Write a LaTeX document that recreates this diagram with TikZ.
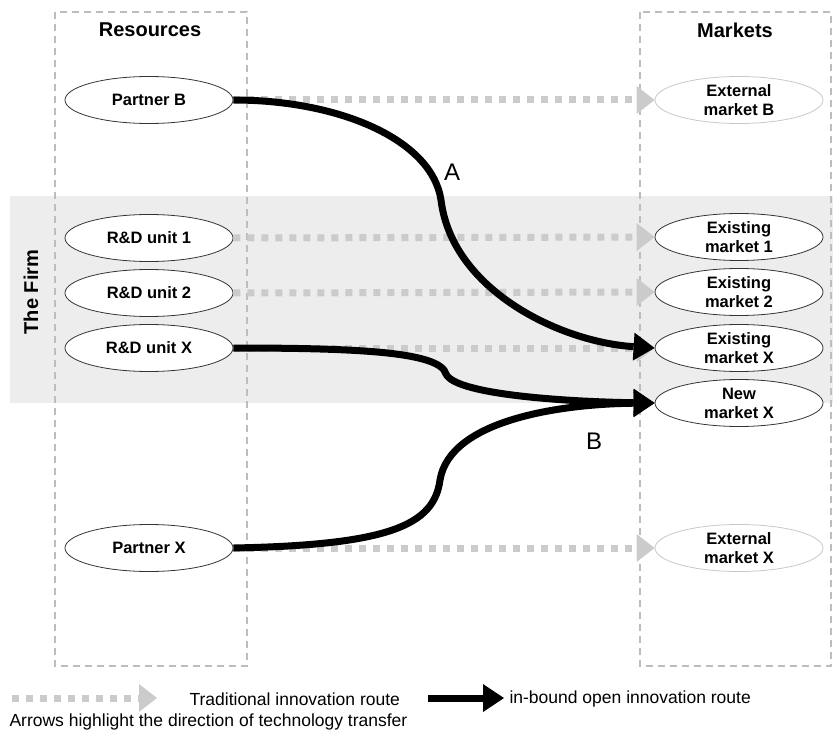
\documentclass[tikz,border=0pt]{standalone}
\usepackage{fontspec}
\setmainfont{Liberation Sans}
\usetikzlibrary{shapes.geometric,arrows.meta}
\definecolor{band}{HTML}{EDEDED}
\definecolor{boxline}{HTML}{BDBDBD}
\definecolor{trad}{HTML}{CBCBCB}
\definecolor{extline}{HTML}{C8C8C8}
\tikzset{
  framebox/.style={draw=boxline,line width=1.5pt,dash pattern=on 7pt off 5pt},
  ell/.style={ellipse,draw=black!80,line width=0.8pt,fill=white,minimum width=168pt,minimum height=47pt,inner sep=0pt,align=center,font=\bfseries\fontsize{16.5}{19}\selectfont},
  ext/.style={ell,draw=extline},
  tradarrow/.style={draw=trad,line width=7pt,dash pattern=on 7pt off 7pt,-{Triangle[length=18pt,width=28pt,fill=trad,line width=0pt]}},
  openarrow/.style={draw=black,line width=7pt,-{Triangle[length=21pt,width=28pt,line width=0pt]}},
  head/.style={font=\bfseries\fontsize{20}{24}\selectfont},
  lbl/.style={font=\fontsize{24}{28}\selectfont},
  legend/.style={anchor=west,font=\fontsize{17.5}{21}\selectfont}
}
\begin{document}
\begin{tikzpicture}[x=1pt,y=-1pt]
\useasboundingbox (0,0) rectangle (833,733);
\fill[band] (10,196) rectangle (833,403);
\draw[framebox] (55,12) rectangle (247,666);
\draw[framebox] (640,12) rectangle (831,666);
\node[head] (res) at (150,30) {Resources};
\node[head] (mkt) at (735,30) {Markets};
\node[head,rotate=90] (firm) at (31,292) {The Firm};
% left nodes
\node[ell] (pb) at (149,100) {Partner B};
\node[ell] (r1) at (149,238) {R\&D unit 1};
\node[ell] (r2) at (149,293) {R\&D unit 2};
\node[ell] (rx) at (149,348) {R\&D unit X};
\node[ell] (px) at (149,548) {Partner X};
% right nodes
\node[ext] (eb) at (739,100) {External\\market B};
\node[ell] (e1) at (739,237) {Existing\\market 1};
\node[ell] (e2) at (739,292) {Existing\\market 2};
\node[ell] (ex) at (739,348) {Existing\\market X};
\node[ell] (nx) at (739,403) {New\\market X};
\node[ext] (xx) at (739,548) {External\\market X};
% traditional routes
\draw[tradarrow] (pb.east) -- (eb.west);
\draw[tradarrow] (r1.east) -- (e1.west);
\draw[tradarrow] (r2.east) -- (e2.west);
\draw[tradarrow] (rx.east) -- (ex.west);
\draw[tradarrow] (px.east) -- (xx.west);
% open innovation routes
\draw[openarrow] (pb.east) .. controls (340,100) and (432,140) .. (441,200) .. controls (452,290) and (560,342) .. (ex.west);
\draw[openarrow] (rx.east) .. controls (360,348) and (440,352) .. (446,374) .. controls (456,396) and (580,402) .. (nx.west);
\draw[openarrow] (px.east) .. controls (390,545) and (434,525) .. (440,480) .. controls (450,420) and (560,404) .. (nx.west);
\node[lbl] (la) at (452,172) {A};
\node[lbl] (lb) at (594,441) {B};
% legend
\coordinate (t1) at (12,698);
\coordinate (t2) at (157,698);
\coordinate (o1) at (428,698);
\coordinate (o2) at (504,698);
\draw[tradarrow] (t1) -- (t2);
\draw[openarrow] (o1) -- (o2);
\node[legend] (lt) at (186,699) {Traditional innovation route};
\node[legend] (lo) at (506,699) {in-bound open innovation route};
\node[legend] (lh) at (6,722) {Arrows highlight the direction of technology transfer};
\end{tikzpicture}
\end{document}
